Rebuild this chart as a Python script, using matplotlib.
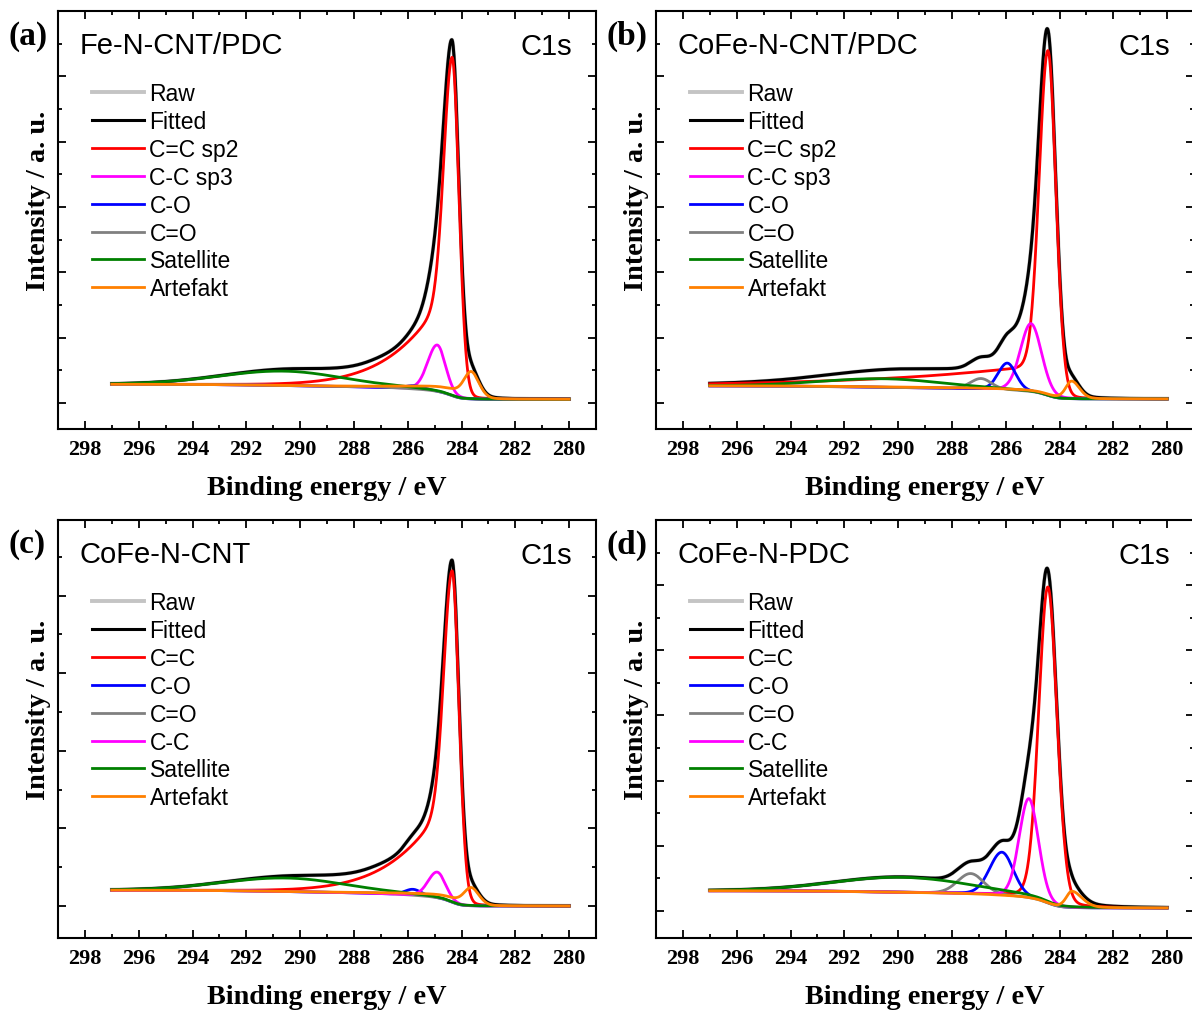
import numpy as np
import matplotlib.pyplot as plt
from matplotlib.ticker import MultipleLocator

plt.rcParams['font.family'] = 'Liberation Sans'

# panel texts
panel_tags = ['(a)', '(b)', '(c)', '(d)']
samples = ['Fe-N-CNT/PDC', 'CoFe-N-CNT/PDC', 'CoFe-N-CNT', 'CoFe-N-PDC']
labels_ab = ['C=C sp2', 'C-C sp3', 'C-O', 'C=O', 'Satellite', 'Artefakt']
labels_cd = ['C=C', 'C-C', 'C-O', 'C=O', 'Satellite', 'Artefakt']
comp_colors = ['#ff0000', '#ff00ff', '#0000ff', '#808080', '#008000', '#ff8000']
# legend / drawing order of the components in each panel
comp_order = [[0, 1, 2, 3, 4, 5], [0, 1, 2, 3, 4, 5], [0, 2, 3, 1, 4, 5], [0, 2, 3, 1, 4, 5]]

# fitted components, order: C=C, C-C, C-O, C=O, Satellite, Artefakt
# binding energy of each peak (eV)
centers = [[284.35, 284.90, 285.75, 287.20, 290.60, 283.65],
           [284.43, 285.06, 285.94, 286.92, 290.50, 283.55],
           [284.35, 284.90, 285.80, 287.20, 290.50, 283.65],
           [284.43, 285.14, 286.14, 287.30, 289.85, 283.54]]
# peak heights above background (a.u.)
heights = [[5.18, 0.71, 0.05, 0.01, 0.22, 0.42],
           [5.28, 1.04, 0.41, 0.16, 0.13, 0.27],
           [4.27, 0.33, 0.076, 0.008, 0.174, 0.235],
           [4.85, 1.52, 0.66, 0.31, 0.23, 0.25]]
# half widths, high-BE side and low-BE side (eV)
hw_high = [[0.36, 0.42, 0.40, 0.50, 2.8, 0.30],
           [0.38, 0.46, 0.40, 0.45, 2.8, 0.25],
           [0.36, 0.40, 0.35, 0.50, 2.8, 0.30],
           [0.40, 0.42, 0.54, 0.57, 3.0, 0.25]]
hw_low = [[0.30, 0.36, 0.40, 0.50, 2.6, 0.35],
          [0.35, 0.46, 0.38, 0.45, 2.6, 0.35],
          [0.30, 0.36, 0.35, 0.50, 2.6, 0.35],
          [0.40, 0.42, 0.50, 0.57, 3.0, 0.45]]
# lorentzian fraction
lor = [[0.05, 0.1, 0.1, 0.1, 0.1, 0.2],
       [0.05, 0.1, 0.1, 0.1, 0.1, 0.2],
       [0.05, 0.1, 0.1, 0.1, 0.1, 0.2],
       [0.1, 0.1, 0.1, 0.1, 0.1, 0.3]]
# asymmetric tail towards high BE: fraction and width (eV)
tail_frac = [[0.30, 0, 0, 0, 0, 0.30],
             [0.07, 0, 0, 0, 0, 0.07],
             [0.30, 0, 0, 0, 0, 0.30],
             [0, 0, 0, 0, 0, 0]]
tail_w = [[2.0, 1, 1, 1, 1, 2.0],
          [6.0, 1, 1, 1, 1, 6.0],
          [2.0, 1, 1, 1, 1, 2.0],
          [1, 1, 1, 1, 1, 1]]
# background level at 297 eV and at 280 eV
bg_high = [0.285, 0.26, 0.204, 0.31]
bg_low = [0.055, 0.06, 0.0, 0.045]
y_limits = [(-0.4, 6.0), (-0.4, 6.0), (-0.412, 4.974), (-0.415, 6.0)]

energy = np.linspace(280, 297, 1701)


def component(x, c, h, wl, wr, eta, tf, tw):
    d = x - c
    w = np.where(d > 0, wl, wr)
    core = (1 - eta) * np.exp(-np.log(2) * (d / w) ** 2) + eta / (1 + (d / w) ** 2)
    tail = np.where(d > 0, np.exp(-(np.clip(d, 0, None) / tw) ** 1.2), core)
    return h * ((1 - tf) * core + tf * tail)


def shirley(peaks, high, low):
    cum = np.cumsum(peaks.sum(axis=0))
    return low + (high - low) * cum / cum[-1]


fig = plt.figure(figsize=(11.92, 10.12), dpi=100)
W, H = 1192, 1012
boxes = [(58, 12), (656, 12), (58, 521), (656, 521)]
aw, ah = 538, 418

serif = 'Liberation Serif'

for p in range(4):
    x0, y0 = boxes[p]
    ax = fig.add_axes([x0 / W, 1 - (y0 + ah) / H, aw / W, ah / H])

    peaks = np.array([component(energy, centers[p][i], heights[p][i], hw_high[p][i],
                                hw_low[p][i], lor[p][i], tail_frac[p][i], tail_w[p][i])
                      for i in range(6)])
    bg = shirley(peaks, bg_high[p], bg_low[p])
    fitted = bg + peaks.sum(axis=0)

    ax.plot(energy, fitted, color='#c4c4c4', lw=2.8, label='Raw')
    ax.plot(energy, fitted, color='black', lw=2.2, label='Fitted')
    labels = labels_ab if p < 2 else labels_cd
    for i in comp_order[p]:
        ax.plot(energy, bg + peaks[i], color=comp_colors[i], lw=2.0, label=labels[i])

    ax.set_xlim(299, 279)
    ax.set_ylim(*y_limits[p])
    ax.xaxis.set_major_locator(MultipleLocator(2))
    ax.xaxis.set_minor_locator(MultipleLocator(1))
    ax.yaxis.set_major_locator(MultipleLocator(1))
    ax.yaxis.set_minor_locator(MultipleLocator(0.5))
    ax.tick_params(which='both', direction='in', top=True, right=True, width=1.3,
                   labelleft=False)
    ax.tick_params(which='major', length=6)
    ax.tick_params(which='minor', length=3)
    ax.tick_params(axis='x', pad=7, labelsize=16)
    for lab in ax.get_xticklabels():
        lab.set_fontfamily(serif)
        lab.set_fontweight('bold')
    for s in ax.spines.values():
        s.set_linewidth(1.5)

    ax.text(0.5, -0.139, 'Binding energy / eV', transform=ax.transAxes, ha='center',
            va='center', fontsize=20.3, fontweight='bold', family=serif)
    ax.text(-0.037, 0.547, 'Intensity / a. u.', transform=ax.transAxes, ha='center',
            va='center', rotation=90, fontsize=20.3, fontweight='bold', family=serif)
    ax.text(0.04, 0.919, samples[p], transform=ax.transAxes, ha='left', va='center',
            fontsize=21)
    ax.text(0.955, 0.916, 'C1s', transform=ax.transAxes, ha='right', va='center',
            fontsize=21)
    fig.text((x0 - 50) / W, 1 - (y0 + 24) / H, panel_tags[p], ha='left', va='center',
             fontsize=24, fontweight='bold', family=serif)

    ax.legend(loc='upper left', bbox_to_anchor=(0.064, 0.829), frameon=False,
              fontsize=16.5, handlelength=2.23, handletextpad=0.26, labelspacing=0.21,
              borderaxespad=0, borderpad=0)

fig.savefig('out.png', dpi=100)
